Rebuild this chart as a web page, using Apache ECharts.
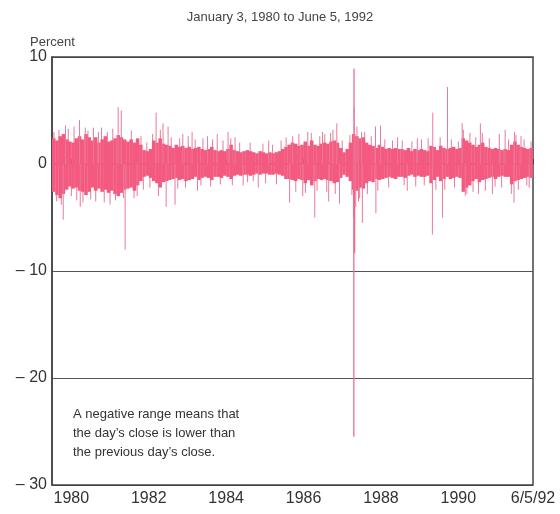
<!DOCTYPE html>
<html>
<head>
<meta charset="utf-8">
<script src="https://cdn.jsdelivr.net/npm/echarts@6/dist/echarts.min.js"></script>
<style>
  html, body { margin: 0; padding: 0; background: #fff; }
  #chart { width: 560px; height: 514px; }
</style>
</head>
<body>
<div id="chart"></div>
<script>
// monthly upper / lower edge of the dense band of daily ranges (percent), Jan 1980 .. Jun 1992
var bandHigh = [
  2.4, 2.2, 2.6, 2.8, 2.3, 2.1, 2.0, 2.4, 2.6, 2.3, 2.8, 2.5,   // 1980
  2.2, 2.5, 2.0, 2.3, 2.6, 2.1, 2.2, 2.4, 2.7, 2.5, 2.3, 2.1,   // 1981
  2.3, 2.0, 2.4, 1.8, 1.3, 1.2, 1.4, 2.2, 2.0, 2.4, 1.9, 1.8,   // 1982
  1.7, 1.5, 1.8, 1.6, 1.7, 1.5, 1.6, 1.4, 1.5, 1.6, 1.4, 1.3,   // 1983
  1.4, 1.6, 1.3, 1.2, 1.3, 1.2, 1.4, 1.8, 1.3, 1.2, 1.1, 1.2,   // 1984
  1.3, 1.2, 1.1, 1.0, 1.2, 1.1, 1.0, 1.1, 1.0, 1.1, 1.2, 1.4,   // 1985
  1.6, 1.8, 2.0, 1.9, 1.7, 1.8, 2.1, 1.7, 2.2, 1.8, 1.7, 1.9,   // 1986
  2.0, 1.9, 2.1, 2.2, 2.0, 1.5, 1.1, 1.4, 2.0, 2.8, 2.6, 2.4,   // 1987
  2.5, 2.0, 1.8, 1.7, 1.5, 1.8, 1.6, 1.4, 1.5, 1.4, 1.5, 1.4,   // 1988
  1.4, 1.3, 1.5, 1.2, 1.4, 1.3, 1.4, 1.3, 1.2, 1.7, 1.6, 1.3,   // 1989
  1.7, 1.5, 1.4, 1.5, 1.6, 1.4, 1.5, 2.4, 2.2, 2.0, 1.8, 1.6,   // 1990
  1.8, 2.0, 1.6, 1.5, 1.4, 1.5, 1.4, 1.3, 1.4, 1.3, 1.8, 2.1,   // 1991
  1.8, 1.6, 1.5, 1.4, 1.5, 1.3                                  // 1992
];
var bandLow = [
  -2.6, -2.9, -3.2, -2.8, -2.4, -2.1, -2.3, -2.2, -2.5, -2.6, -2.9, -2.6,
  -2.2, -2.5, -2.3, -2.6, -2.4, -2.7, -2.5, -2.8, -3.0, -2.7, -2.4, -2.3,
  -2.2, -2.5, -2.0, -1.6, -1.2, -1.1, -1.3, -1.6, -1.8, -2.2, -1.7, -1.6,
  -1.5, -1.4, -1.3, -1.5, -1.4, -1.6, -1.5, -1.4, -1.2, -1.5, -1.3, -1.2,
  -1.3, -1.5, -1.2, -1.2, -1.3, -1.1, -1.2, -1.4, -1.1, -1.0, -1.1, -1.0,
  -1.0, -1.1, -1.0, -0.9, -1.0, -0.9, -0.9, -1.0, -1.0, -0.9, -1.0, -1.1,
  -1.4, -1.4, -1.5, -1.6, -1.4, -1.5, -1.8, -1.5, -2.0, -1.6, -1.4, -1.5,
  -1.4, -1.5, -1.6, -1.8, -1.7, -1.3, -1.0, -1.2, -1.6, -2.4, -2.5, -2.2,
  -2.3, -1.8, -1.6, -1.7, -1.4, -1.5, -1.4, -1.3, -1.2, -1.3, -1.4, -1.2,
  -1.2, -1.3, -1.1, -1.0, -1.2, -1.1, -1.2, -1.2, -1.1, -1.8, -1.5, -1.2,
  -1.6, -1.4, -1.2, -1.4, -1.3, -1.2, -1.3, -2.6, -2.2, -2.0, -1.6, -1.4,
  -1.7, -1.5, -1.4, -1.3, -1.2, -1.4, -1.2, -1.1, -1.2, -1.2, -1.9, -1.6,
  -1.5, -1.4, -1.3, -1.2, -1.3, -1.2
];
// isolated days that stick far out of the band: date (decimal year), range (percent)
var spikeDates = [
  1980.29, 1980.35, 1980.71, 1980.73, 1980.86, 1981.07, 1981.20, 1981.71, 1981.79, 1981.85,
  1981.89, 1982.20, 1982.69, 1982.87, 1982.95, 1983.00, 1983.18, 1983.38, 1983.62, 1983.76,
  1984.02, 1984.27, 1984.55, 1984.73, 1984.94, 1985.33, 1985.60, 1986.14, 1986.22, 1986.48,
  1986.61, 1986.79, 1986.99, 1987.15, 1987.26, 1987.36, 1987.43, 1987.79, 1987.80, 1987.805,
  1987.81, 1987.82, 1987.85, 1987.88, 1987.92, 1988.00, 1988.02, 1988.36, 1988.37, 1988.49,
  1988.93, 1989.18, 1989.44, 1989.83, 1989.84, 1990.09, 1990.22, 1990.60, 1990.68, 1991.07,
  1991.38, 1991.56, 1991.71, 1991.94, 1991.95, 1992.12, 1992.33
];
var spikeValues = [
  -5.2, 3.6, 4.1, -4.0, 3.4, 3.4, 3.0, 5.3, 5.0, -3.2,
  -8.0, -3.0, 4.8, 3.8, -4.0, 3.5, -3.8, 2.8, 3.0, -2.5,
  2.6, 2.8, 3.0, 2.5, -2.0, -2.2, 2.2, -3.6, 2.6, -3.0,
  3.0, -5.0, 3.0, -3.5, 3.2, 3.8, -3.7, -5.0, -25.5, 8.9,
  5.3, -8.3, -4.0, 3.5, -3.5, 3.0, -5.5, 3.5, -4.6, 3.6,
  2.5, -2.5, 2.4, -6.6, 4.8, -5.0, 7.2, 3.8, -3.0, 3.8,
  -2.8, 2.8, 3.2, -3.6, 3.0, 2.6, -2.2
];
// smaller days poking just past the band edge
var minorDates = [
  1980.05, 1980.12, 1980.18, 1980.24, 1980.42, 1980.50, 1980.57, 1980.64, 1980.80, 1980.93,
  1981.00, 1981.13, 1981.28, 1981.35, 1981.43, 1981.50, 1981.57, 1981.64, 1982.05, 1982.12,
  1982.30, 1982.36, 1982.45, 1982.53, 1982.60, 1982.75, 1982.80, 1983.08, 1983.25, 1983.30,
  1983.45, 1983.52, 1983.70, 1983.85, 1983.90, 1984.10, 1984.15, 1984.35, 1984.42, 1984.62,
  1984.66, 1984.85, 1985.05, 1985.12, 1985.20, 1985.45, 1985.52, 1985.70, 1985.80, 1985.92,
  1986.05, 1986.30, 1986.38, 1986.55, 1986.70, 1986.85, 1986.92, 1987.05, 1987.10, 1987.20,
  1987.32, 1987.50, 1987.70, 1987.75, 1987.95, 1988.08, 1988.15, 1988.25, 1988.42, 1988.60,
  1988.70, 1988.80, 1989.05, 1989.10, 1989.30, 1989.40, 1989.55, 1989.62, 1989.72, 1989.92,
  1990.03, 1990.15, 1990.32, 1990.40, 1990.50, 1990.63, 1990.72, 1990.80, 1990.88, 1990.95,
  1991.02, 1991.12, 1991.20, 1991.30, 1991.45, 1991.62, 1991.80, 1991.87, 1991.99, 1992.05,
  1992.20, 1992.27, 1992.38
];
var minorValues = [
  3.0, -3.5, 3.2, -3.8, 3.3, -3.0, 3.5, -3.4, -3.6, 3.1,
  -3.3, -3.5, 3.4, -3.6, 3.0, -3.8, 3.3, -3.4, 3.1, -3.2,
  2.6, -2.4, 2.0, -2.2, 2.8, -3.0, 3.2, 2.5, -2.3, 2.4,
  -2.2, 2.6, 2.3, -2.0, 2.4, -2.1, 2.3, -1.9, 2.2, 2.4,
  -2.0, 2.0, -1.7, 2.0, -1.6, 1.9, -1.8, 1.8, -1.9, 2.2,
  2.5, -2.6, 2.8, -2.7, 2.9, -2.5, 2.6, 2.8, -2.6, 2.9,
  -2.8, 2.2, 2.7, -2.9, -3.2, 3.0, -2.8, 2.6, -2.5, 2.3,
  -2.2, 2.2, 2.2, -2.0, 2.1, -2.1, 2.3, -2.0, 2.4, -2.4,
  2.5, -2.4, 2.3, -2.2, 2.1, 3.2, -2.8, 2.9, -2.6, 2.5,
  -2.8, 2.9, -2.5, 2.4, -2.1, -2.2, 2.3, -2.8, 2.7, -2.4,
  2.3, -2.0, 2.1
];
var yearTicks = [1980.5, 1982.5, 1984.5, 1986.5, 1988.5, 1990.5, 1992.43];
var yearLabels = ['1980', '1982', '1984', '1986', '1988', '1990', '6/5/92'];

var bandData = [];
for (var m = 0; m < bandHigh.length; m++) {
  var t0 = 1980 + m / 12;
  bandData.push([t0, Math.min(t0 + 1 / 12, 1992.43), bandLow[m], bandHigh[m]]);
}
var spikeData = [];
for (var i = 0; i < spikeDates.length; i++) {
  spikeData.push([spikeDates[i], spikeValues[i]]);
}
var minorData = [];
for (var j = 0; j < minorDates.length; j++) {
  minorData.push([minorDates[j], minorValues[j]]);
}

function spikeRender(params, api) {
  var p0 = api.coord([api.value(0), 0]);
  var p1 = api.coord([api.value(0), api.value(1)]);
  var big = Math.abs(api.value(1)) > 8;
  return {
    type: 'line',
    shape: { x1: p0[0], y1: p0[1], x2: p1[0], y2: p1[1] },
    style: { stroke: big ? '#ee6b8c' : '#e9799a', lineWidth: big ? 1.3 : 1 }
  };
}

var chart = echarts.init(document.getElementById('chart'));
chart.setOption({
  animation: false,
  textStyle: { fontFamily: 'Liberation Sans, Arial, sans-serif' },
  title: {
    text: 'January 3, 1980 to June 5, 1992',
    left: 'center',
    top: 6,
    textStyle: { fontSize: 13, fontWeight: 'normal', color: '#444' }
  },
  graphic: [
    { type: 'text', left: 30, top: 36, style: { text: 'Percent', fontSize: 13, fill: '#444', fontFamily: 'Liberation Sans, Arial, sans-serif' } },
    { type: 'text', left: 73, top: 405, style: {
        text: 'A negative range means that\nthe day\u2019s close is lower than\nthe previous day\u2019s close.',
        fontSize: 13, lineHeight: 19, fill: '#333', fontFamily: 'Liberation Sans, Arial, sans-serif' } }
  ],
  grid: {
    left: 52, right: 27, top: 57, bottom: 29,
    show: true, borderColor: '#444', borderWidth: 1.5, backgroundColor: 'transparent'
  },
  xAxis: {
    type: 'value',
    min: 1980.0,
    max: 1992.43,
    axisLine: { show: true, lineStyle: { color: '#444', width: 1.5 } },
    axisTick: { show: true, inside: true, length: 5, customValues: yearTicks, lineStyle: { color: '#444' } },
    axisLabel: {
      customValues: yearTicks,
      fontSize: 16,
      color: '#333',
      margin: 6,
      formatter: function (v) {
        var k = yearTicks.indexOf(v);
        return k >= 0 ? yearLabels[k] : '';
      }
    },
    splitLine: { show: false }
  },
  yAxis: {
    type: 'value',
    min: -30,
    max: 10,
    interval: 10,
    axisLine: { show: true, lineStyle: { color: '#444', width: 1.5 } },
    axisTick: { show: false },
    axisLabel: {
      fontSize: 16,
      color: '#333',
      margin: 5,
      formatter: function (v) { return v < 0 ? '\u2013 ' + (-v) : String(v); }
    },
    splitLine: { show: true, lineStyle: { color: ['#444', '#555', '#555', 'rgba(0,0,0,0)', '#444'], width: 1.2 } }
  },
  series: [
    {
      type: 'custom',
      name: 'minor',
      clip: true,
      encode: { x: 0, y: 1 },
      data: minorData,
      renderItem: spikeRender
    },
    {
      type: 'custom',
      name: 'band',
      clip: true,
      encode: { x: [0, 1], y: [2, 3] },
      data: bandData,
      renderItem: function (params, api) {
        var a = api.coord([api.value(0), api.value(3)]);
        var b = api.coord([api.value(1), api.value(2)]);
        return {
          type: 'rect',
          shape: { x: a[0], y: a[1], width: b[0] - a[0] + 0.3, height: b[1] - a[1] },
          style: { fill: '#f45a80' }
        };
      }
    },
    {
      type: 'custom',
      name: 'spikes',
      clip: true,
      encode: { x: 0, y: 1 },
      data: spikeData,
      renderItem: spikeRender
    }
  ]
});
</script>
</body>
</html>
